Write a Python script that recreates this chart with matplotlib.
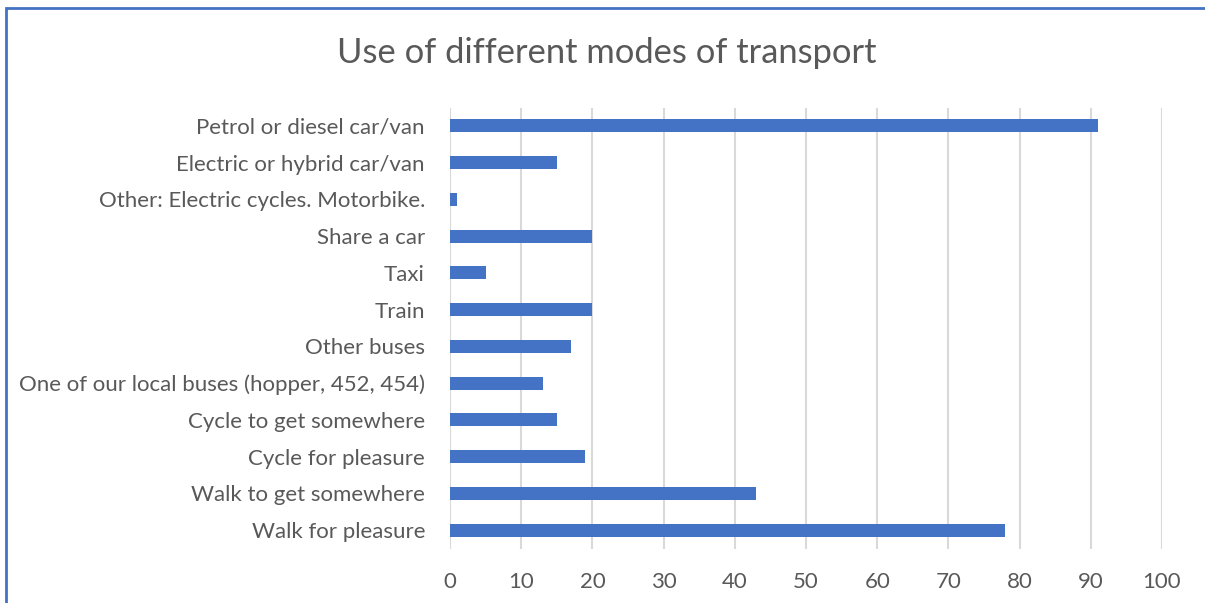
import matplotlib.pyplot as plt
from matplotlib.patches import Rectangle

# survey answers, listed top to bottom as in the chart
modes = ['Petrol or diesel car/van', 'Electric or hybrid car/van',
         'Other: Electric cycles. Motorbike.', 'Share a car', 'Taxi', 'Train',
         'Other buses', 'One of our local buses (hopper, 452, 454)',
         'Cycle to get somewhere', 'Cycle for pleasure',
         'Walk to get somewhere', 'Walk for pleasure']
counts = [91, 15, 1, 20, 5, 20, 17, 13, 15, 19, 43, 78]
xticks = [0, 10, 20, 30, 40, 50, 60, 70, 80, 90, 100]

txt = '#595959'
plt.rcParams['font.family'] = ['Lato', 'DejaVu Sans']

fig = plt.figure(figsize=(12.05, 6.03), dpi=100)
ax = fig.add_axes([450 / 1205, 1 - 548.5 / 603, 712 / 1205, 441 / 603])

y = list(range(len(modes)))[::-1]
ax.barh(y, counts, height=0.36, color='#4472C4', zorder=3)
ax.set_ylim(-0.5, len(modes) - 0.5)
ax.set_xlim(0, 100)
ax.set_xticks(xticks)
ax.set_yticks(y)
ax.set_yticklabels(modes)
ax.tick_params(axis='both', length=0, colors=txt, labelsize=16)
ax.tick_params(axis='x', pad=17)
ax.tick_params(axis='y', pad=18)
ax.grid(axis='x', color='#D9D9D9', linewidth=1.5, zorder=0)
for s in ax.spines.values():
    s.set_visible(False)

fig.text(607 / 1205, 1 - 53 / 603, 'Use of different modes of transport',
         ha='center', va='center', fontsize=24.8, color=txt)

# chart border (runs off right and bottom of the image)
fig.patches.append(Rectangle((5.5 / 1205, -0.1), 1.2, 1 - 8 / 603 + 0.1,
                             transform=fig.transFigure, fill=False,
                             edgecolor='#4472C4', linewidth=2))

fig.savefig('out.png', dpi=100)
